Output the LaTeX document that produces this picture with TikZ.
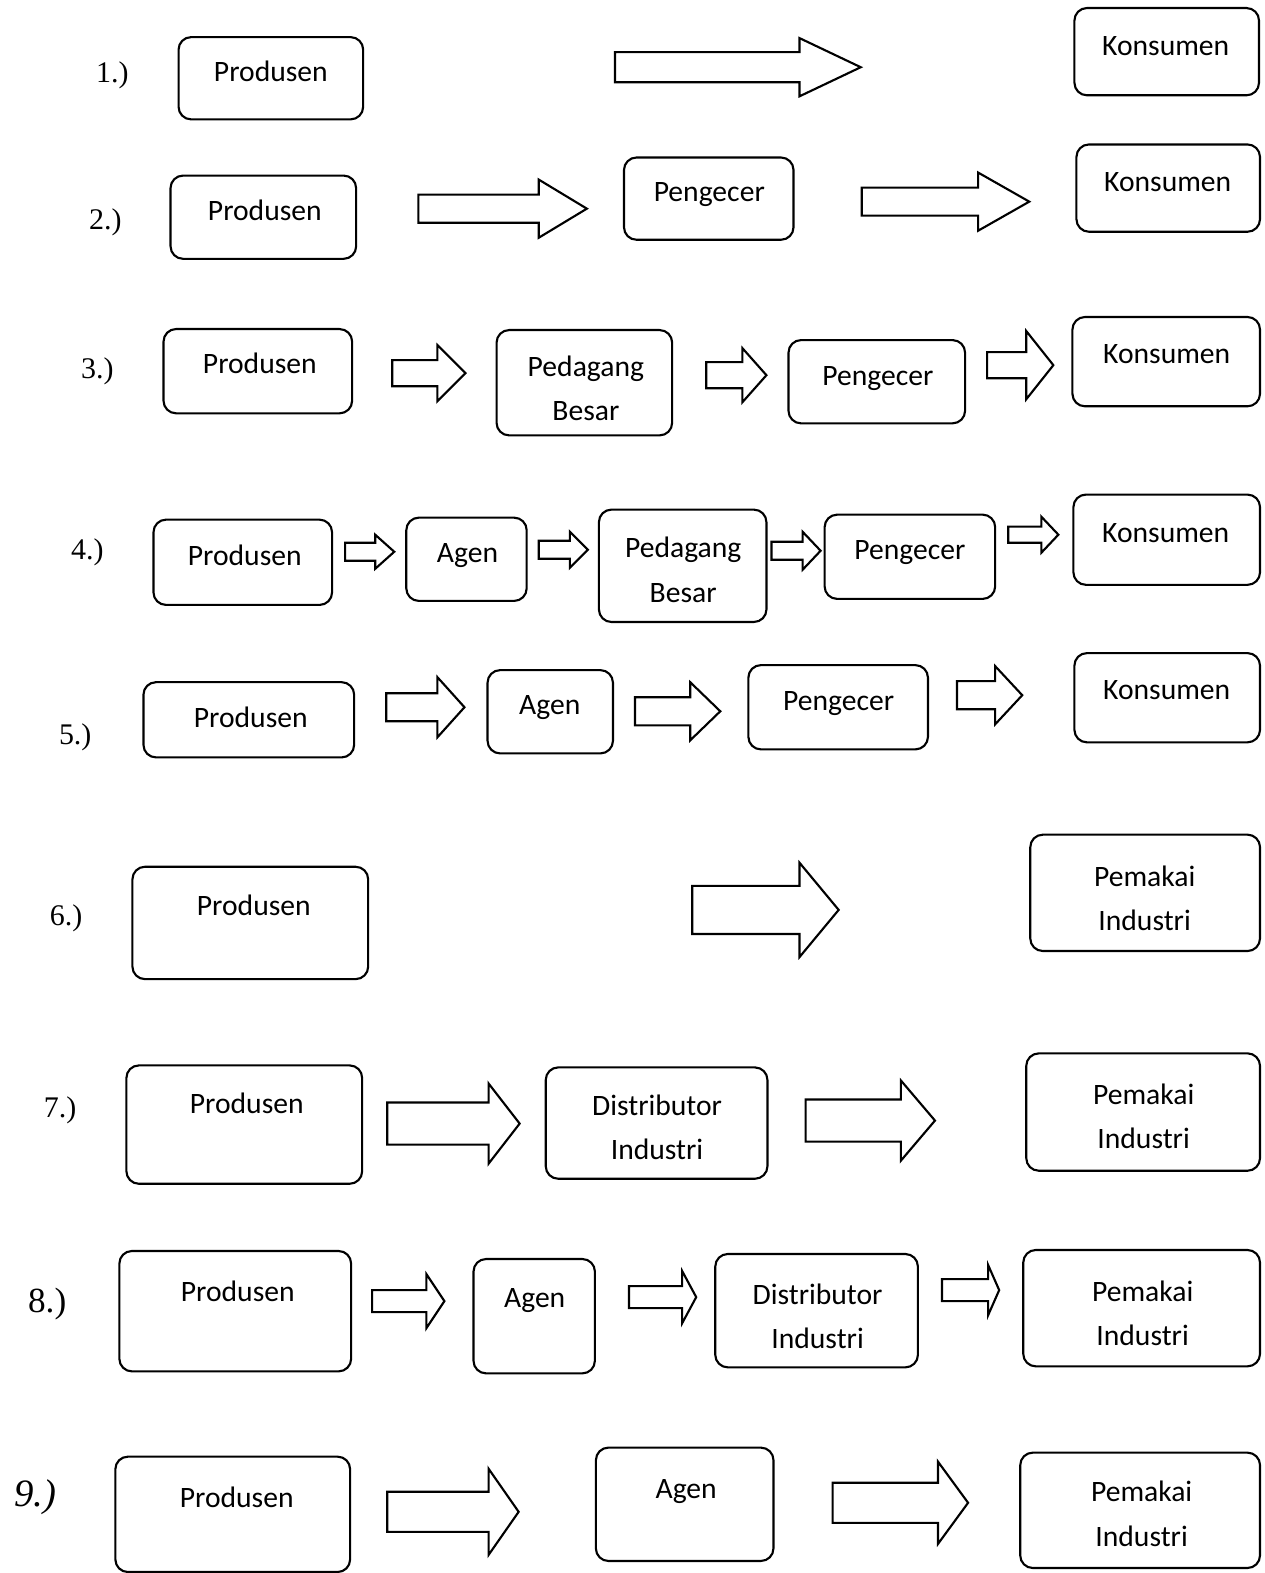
\documentclass[tikz,border=0pt]{standalone}
\usepackage{fontspec}
\setmainfont{Carlito}
\newfontfamily\numfont{Liberation Serif}
\usetikzlibrary{fit}

% block arrow: x start, head start, tip, y centre, half shaft, half head
\newcommand{\blockarrow}[6]{%
  \draw[barrow] (#1,#4-#5) -- (#2,#4-#5) -- (#2,#4-#6) -- (#3,#4)
    -- (#2,#4+#6) -- (#2,#4+#5) -- (#1,#4+#5) -- cycle;}

\begin{document}
\begin{tikzpicture}[x=0.02cm, y=-0.02cm,
    box/.style={draw, line width=1.2pt, rounded corners=0.25cm, inner sep=0pt},
    txt/.style={font=\fontsize{16.8}{25}\selectfont, align=center},
    one/.style={txt, text height=0.64em, text depth=0pt, inner sep=0pt, yshift=-0.08cm},
    num/.style={font=\numfont\fontsize{17}{20}\selectfont},
    barrow/.style={draw, line width=1.2pt, fill=white, line join=miter}]
  \useasboundingbox (0,0) rectangle (1260,1568);

  % 1.)
  \node[num] (n1) at (112,75) {1.)};
  \node[box, fit={(178,37) (362,119)}] (p1) {};
  \node[one] (p1t) at (270,72) {Produsen};
  \blockarrow{613}{797}{858}{67}{15}{29}
  \node[box, fit={(1071,8) (1255,95)}] (k1) {};
  \node[one] (k1t) at (1162,46) {Konsumen};

  % 2.)
  \node[num] (n2) at (105,222) {2.)};
  \node[box, fit={(170,175) (355,258)}] (p2) {};
  \node[one] (p2t) at (264,210) {Produsen};
  \blockarrow{417}{537}{585}{208}{14}{29}
  \node[box, fit={(622,157) (791,239)}] (g2) {};
  \node[one] (g2t) at (707,191) {Pengecer};
  \blockarrow{859}{975}{1026}{201}{14}{29}
  \node[box, fit={(1073,144) (1256,231)}] (k2) {};
  \node[one] (k2t) at (1164,181) {Konsumen};

  % 3.)
  \node[num] (n3) at (97,370) {3.)};
  \node[box, fit={(163,328) (351,412)}] (p3) {};
  \node[one] (p3t) at (259,363) {Produsen};
  \blockarrow{391}{436}{464}{372}{13}{28}
  \node[box, fit={(495,329) (670,434)}] (b3) {};
  \node[txt] (b3t) at (584,387) {Pedagang\\Besar};
  \blockarrow{704}{740}{764}{374}{13}{27}
  \node[box, fit={(786,339) (962,422)}] (g3) {};
  \node[one] (g3t) at (875,375) {Pengecer};
  \blockarrow{984}{1023}{1050}{364}{13}{34}
  \node[box, fit={(1069,316) (1256,405)}] (k3) {};
  \node[one] (k3t) at (1163,353) {Konsumen};

  % 4.)
  \node[num] (n4) at (87,551) {4.)};
  \node[box, fit={(153,518) (331,603)}] (p4) {};
  \node[one] (p4t) at (244,554) {Produsen};
  \blockarrow{344}{374}{393}{550}{9}{17}
  \node[box, fit={(405,516) (525,599)}] (a4) {};
  \node[one] (a4t) at (466,551) {Agen};
  \blockarrow{537}{568}{586}{548}{9}{18}
  \node[box, fit={(597,508) (764,620)}] (b4) {};
  \node[txt] (b4t) at (681,568) {Pedagang\\Besar};
  \blockarrow{769}{800}{818}{549}{9}{19}
  \node[box, fit={(822,513) (992,597)}] (g4) {};
  \node[one] (g4t) at (907,548) {Pengecer};
  \blockarrow{1005}{1038}{1055}{533}{8}{18}
  \node[box, fit={(1070,493) (1256,583)}] (k4) {};
  \node[one] (k4t) at (1162,531) {Konsumen};

  % 5.)
  \node[num] (n5) at (75,735) {5.)};
  \node[box, fit={(143,680) (353,755)}] (p5) {};
  \node[one] (p5t) at (250,716) {Produsen};
  \blockarrow{385}{436}{463}{705}{14}{30}
  \node[box, fit={(486,668) (611,751)}] (a5) {};
  \node[one] (a5t) at (548,703) {Agen};
  \blockarrow{633}{688}{718}{709}{14}{29}
  \node[box, fit={(746,663) (925,747)}] (g5) {};
  \node[one] (g5t) at (836,699) {Pengecer};
  \blockarrow{954}{992}{1019}{693}{14}{29}
  \node[box, fit={(1071,651) (1256,740)}] (k5) {};
  \node[one] (k5t) at (1163,688) {Konsumen};

  % 6.)
  \node[num] (n6) at (66,915) {6.)};
  \node[box, fit={(132,864) (367,976)}] (p6) {};
  \node[one] (p6t) at (253,903) {Produsen};
  \blockarrow{690}{797}{836}{907}{24}{47}
  \node[box, fit={(1027,832) (1256,948)}] (i6) {};
  \node[txt] (i6t) at (1141,895) {Pemakai\\Industri};

  % 7.)
  \node[num] (n7) at (60,1107) {7.)};
  \node[box, fit={(126,1062) (361,1180)}] (p7) {};
  \node[one] (p7t) at (246,1100) {Produsen};
  \blockarrow{386}{487}{518}{1120}{21}{40}
  \node[box, fit={(544,1064) (765,1175)}] (d7) {};
  \node[txt] (d7t) at (655,1124) {Distributor\\Industri};
  \blockarrow{803}{898}{932}{1117}{21}{40}
  \node[box, fit={(1023,1050) (1256,1167)}] (i7) {};
  \node[txt] (i7t) at (1140,1113) {Pemakai\\Industri};

  % 8.)
  \node[num, font=\numfont\fontsize{20}{24}\selectfont] (n8) at (47,1300) {8.)};
  \node[box, fit={(119,1247) (350,1367)}] (p8) {};
  \node[one] (p8t) at (237,1288) {Produsen};
  \blockarrow{371}{425}{443}{1297}{11}{27}
  \node[box, fit={(472,1255) (593,1369)}] (a8) {};
  \node[one] (a8t) at (533,1294) {Agen};
  \blockarrow{627}{680}{694}{1293}{11}{26}
  \node[box, fit={(713,1250) (915,1363)}] (d8) {};
  \node[txt] (d8t) at (815,1312) {Distributor\\Industri};
  \blockarrow{939}{985}{996}{1286}{11}{25}
  \node[box, fit={(1020,1246) (1256,1362)}] (i8) {};
  \node[txt] (i8t) at (1139,1309) {Pemakai\\Industri};

  % 9.)
  \node[num, font=\numfont\itshape\fontsize{22}{26}\selectfont] (n9) at (35,1492) {9.)};
  \node[box, fit={(115,1452) (349,1567)}] (p9) {};
  \node[one] (p9t) at (236,1493) {Produsen};
  \blockarrow{386}{487}{517}{1507}{20}{43}
  \node[box, fit={(594,1443) (771,1556)}] (a9) {};
  \node[one] (a9t) at (684,1484) {Agen};
  \blockarrow{830}{935}{965}{1498}{20}{41}
  \node[box, fit={(1017,1448) (1256,1563)}] (i9) {};
  \node[txt] (i9t) at (1138,1509) {Pemakai\\Industri};
\end{tikzpicture}
\end{document}
